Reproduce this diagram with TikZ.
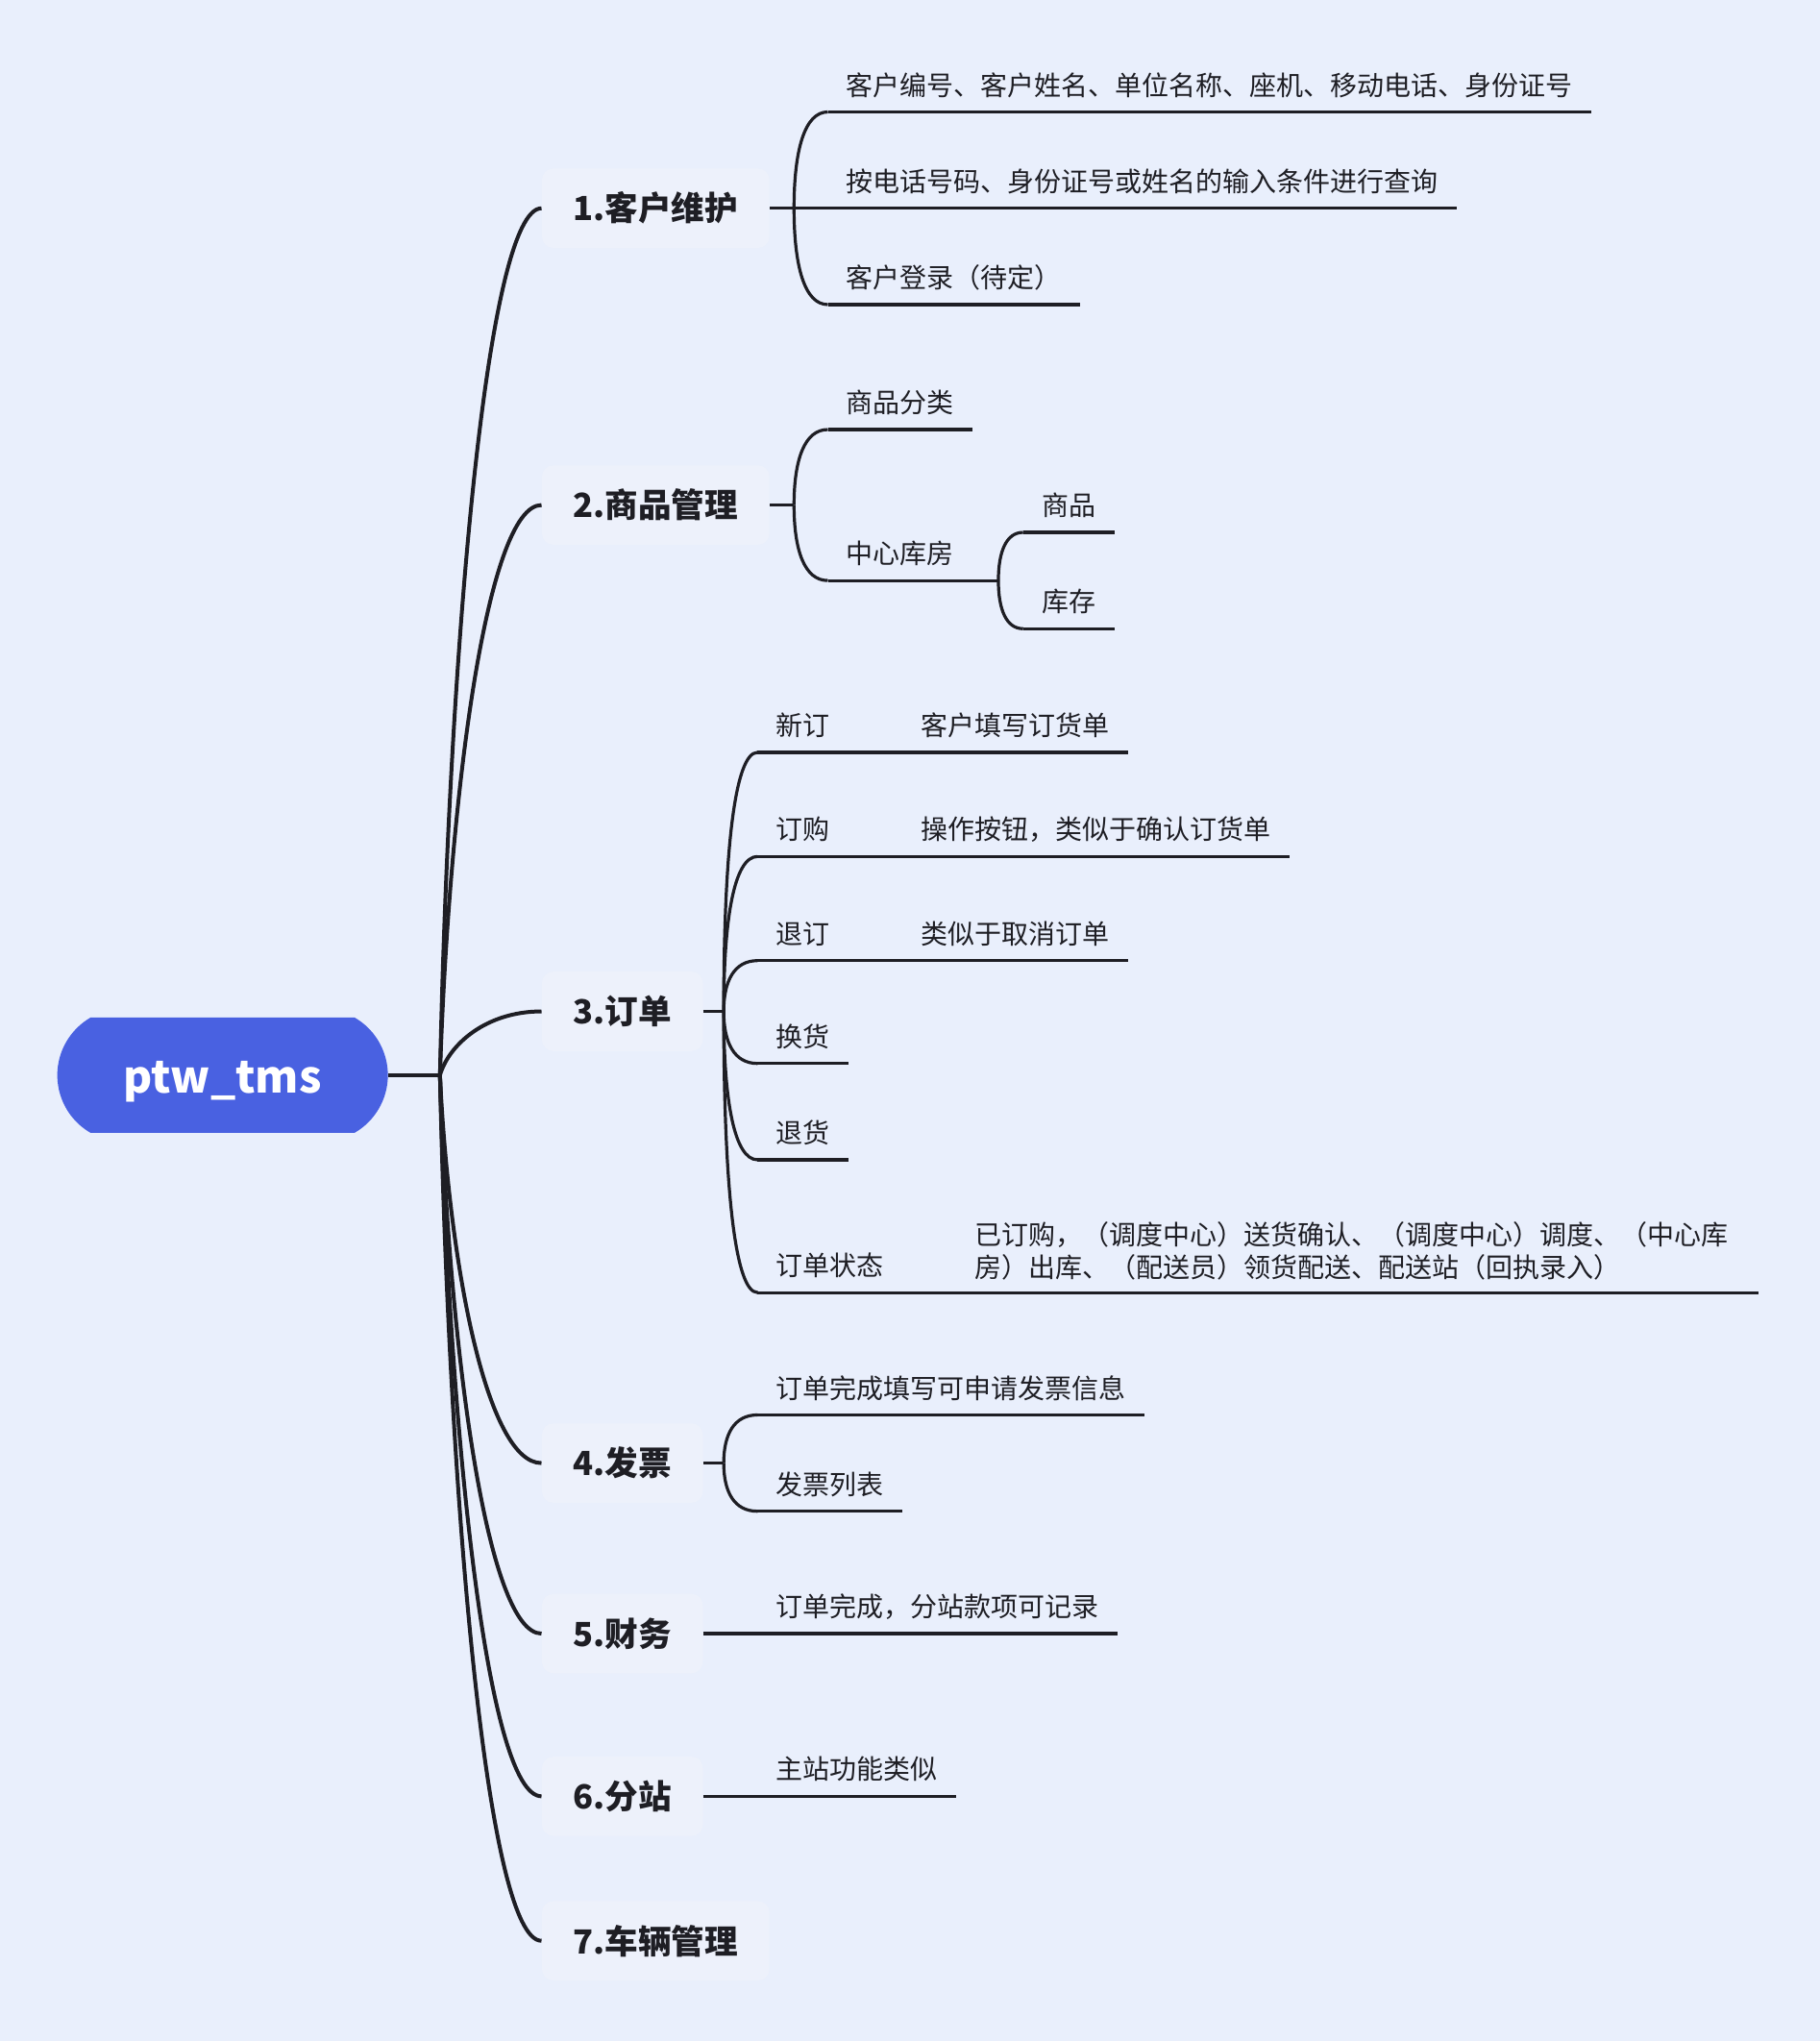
\documentclass[tikz,border=0pt]{standalone}
\usepackage{fontspec}
\setmainfont{Noto Sans CJK SC}
\usepackage{tikz}
\usetikzlibrary{shapes.misc,positioning,calc}

\definecolor{bgblue}{RGB}{233,239,252}
\definecolor{rootblue}{RGB}{73,97,225}
\definecolor{inkline}{RGB}{30,30,36}
\definecolor{topicbg}{RGB}{237,241,251}

\tikzset{
  rootnode/.style={rounded rectangle, rounded rectangle arc length=120, fill=rootblue,
    text=white, font=\fontsize{23}{27}\selectfont\bfseries, text height=21.2pt,
    text depth=2.3pt, minimum width=172pt, minimum height=60pt, inner sep=0pt},
  topic/.style={anchor=west, fill=topicbg, rounded corners=6pt, inner xsep=16.3pt,
    inner ysep=0pt, minimum height=41.3pt, text=inkline,
    font=\fontsize{17.3}{21}\selectfont\bfseries},
  leaf/.style={anchor=south west, inner xsep=9.5pt, inner ysep=6pt, text height=0.85em,
    text depth=0.25em, text=inkline, font=\fontsize{14}{17}\selectfont},
  trunk/.style={draw=inkline, line width=2pt},
  twig/.style={draw=inkline, line width=1.6pt},
}

\begin{document}
\begin{tikzpicture}[x=0.6773pt,y=-0.6773pt]
% Background
\fill[bgblue] (0,0) rectangle (1398,1568);
\useasboundingbox (0,0) rectangle (1398,1568);

% Root
\node[rootnode] (root) at (171,826) {ptw\_tms};
\coordinate (J) at (338,826);
\draw[trunk] (root.east) -- (J);

% Main topics
\foreach \n/\y/\t in {1/160/1.客户维护, 2/388/2.商品管理, 3/777/3.订单, 4/1124/4.发票,
    5/1255/5.财务, 6/1380/6.分站, 7/1491/7.车辆管理}
  \node[topic] (n\n) at (416,\y) {\t};

% Branches
\foreach \n/\d in {1/-666, 2/-438, 3/-49, 4/298, 5/429, 6/554, 7/665}
  \draw[trunk] (J) .. controls +(7,{0.49*\d}) and +(-42,0) .. (n\n.west);

% 1. customers
\coordinate (b1) at (610,160);
\foreach \k/\y/\t in {1/86/客户编号、客户姓名、单位名称、座机、移动电话、身份证号,
    2/160/按电话号码、身份证号或姓名的输入条件进行查询, 3/234/客户登录（待定）}
{
  \node[leaf] (c1\k) at (636,\y) {\t};
  \draw[twig] (c1\k.south west) -- (c1\k.south east);
  \draw[twig] (b1) .. controls +(0,{0.6*(\y-160)}) and +(-18,0) .. (c1\k.south west);
}
\draw[twig] (n1.east) -- (b1);

% 2. goods
\coordinate (b2) at (610,388);
\foreach \k/\y/\t in {1/330/商品分类, 2/446/中心库房}
{
  \node[leaf] (c2\k) at (636,\y) {\t};
  \draw[twig] (c2\k.south west) -- (c2\k.south east);
  \draw[twig] (b2) .. controls +(0,{0.6*(\y-388)}) and +(-18,0) .. (c2\k.south west);
}
\draw[twig] (n2.east) -- (b2);

\coordinate (b22) at (767,446);
\foreach \k/\y/\t in {1/409/商品, 2/483/库存}
{
  \node[leaf] (c22\k) at (786,\y) {\t};
  \draw[twig] (c22\k.south west) -- (c22\k.south east);
  \draw[twig] (b22) .. controls +(0,{0.6*(\y-446)}) and +(-13,0) .. (c22\k.south west);
}
\draw[twig] (c22.south east) -- (b22);

% 3. orders
\coordinate (b3) at (556,777);
\foreach \k/\y/\t in {1/578/新订, 2/658/订购, 3/738/退订, 4/817/换货, 5/891/退货, 6/993/订单状态}
{
  \node[leaf] (c3\k) at (582,\y) {\t};
  \draw[twig] (c3\k.south west) -- (c3\k.south east);
  \draw[twig] (b3) .. controls +(0,{0.6*(\y-777)}) and +(-18,0) .. (c3\k.south west);
}
\draw[twig] (n3.east) -- (b3);

\foreach \k/\t in {1/客户填写订货单, 2/操作按钮，类似于确认订货单, 3/类似于取消订单}
{
  \node[leaf] (d3\k) at ($(c3\k.south east)+(41,0)$) {\t};
  \draw[twig] (c3\k.south east) -- (d3\k.south east);
}
\node[leaf, text height=, text depth=, inner ysep=6.5pt, align=left, text width=398pt]
  (d36) at ($(c36.south east)+(41,0)$)
  {已订购，（调度中心）送货确认、（调度中心）调度、（中心库\\房）出库、（配送员）领货配送、配送站（回执录入）};
\draw[twig] (c36.south east) -- (d36.south east);

% 4. invoices
\coordinate (b4) at (556,1124);
\foreach \k/\y/\t in {1/1087/订单完成填写可申请发票信息, 2/1161/发票列表}
{
  \node[leaf] (c4\k) at (582,\y) {\t};
  \draw[twig] (c4\k.south west) -- (c4\k.south east);
  \draw[twig] (b4) .. controls +(0,{0.6*(\y-1124)}) and +(-18,0) .. (c4\k.south west);
}
\draw[twig] (n4.east) -- (b4);

% 5. finance, 6. substations
\node[leaf] (c51) at (582,1255) {订单完成，分站款项可记录};
\draw[twig] (n5.east) -- (c51.south east);
\node[leaf] (c61) at (582,1380) {主站功能类似};
\draw[twig] (n6.east) -- (c61.south east);
\end{tikzpicture}
\end{document}
